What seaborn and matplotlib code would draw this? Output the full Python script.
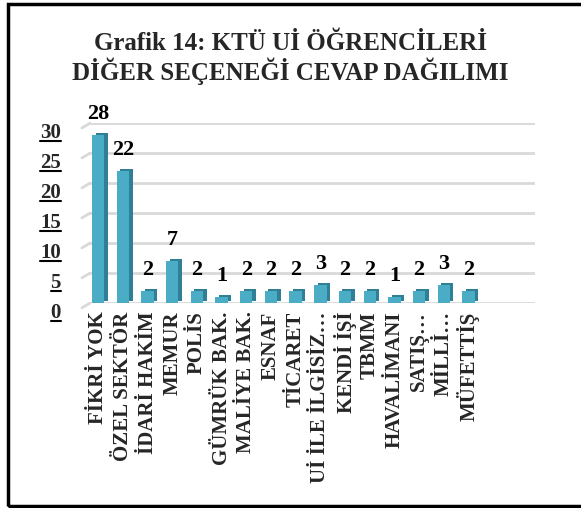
import matplotlib.pyplot as plt
import matplotlib.patheffects as pe
import matplotlib.transforms as mtransforms
from matplotlib.patches import Rectangle
from matplotlib.lines import Line2D
import pandas as pd
import seaborn as sns

# Data
categories = ['FİKRİ YOK', 'ÖZEL SEKTÖR', 'İDARİ HAKİM', 'MEMUR', 'POLİS',
              'GÜMRÜK BAK.', 'MALİYE BAK.', 'ESNAF', 'TİCARET',
              'Uİ İLE İLGİSİZ…', 'KENDİ İŞİ', 'TBMM', 'HAVALİMANI',
              'SATIŞ…', 'MİLLİ…', 'MÜFETTİŞ']
counts = [28, 22, 2, 7, 2, 1, 2, 2, 2, 3, 2, 2, 1, 2, 3, 2]
yticks = [0, 5, 10, 15, 20, 25, 30]

df = pd.DataFrame({'Kategori': categories, 'Sayi': counts})

sns.set_theme(style='white')
plt.rcParams['font.family'] = ['Liberation Serif', 'DejaVu Serif']
plt.rcParams['font.weight'] = 'bold'

fig = plt.figure(figsize=(5.81, 5.08), dpi=100)
ax = fig.add_axes([0.155, 0.4035, 0.766, 0.354])

sns.barplot(data=df, x='Kategori', y='Sayi', color='#4BACC6', width=0.5,
            saturation=1, linewidth=0, ax=ax, zorder=3)

# fake 3D depth on the bars
for bar in ax.patches:
    bar.set_path_effects([pe.SimplePatchShadow(offset=(2.5, 1.5), shadow_rgbFace='#2F7F96', alpha=1),
                          pe.Normal()])

# value labels
for i, v in enumerate(counts):
    ax.annotate(str(v), (i, v), xytext=(0, 8), textcoords='offset points',
                ha='center', va='bottom', fontsize=16, fontweight='bold', color='black')

ax.set_ylim(0, 30)
ax.set_xlim(-0.33, 17.7)
ax.set_yticks(yticks)
ax.set_yticklabels([str(t) for t in yticks], fontsize=15, fontweight='bold')
ax.yaxis.grid(True, color='#D9D9D9', linewidth=2)
ax.set_axisbelow(True)
for s in ax.spines.values():
    s.set_visible(False)
ax.tick_params(axis='y', length=0, pad=21)
ax.tick_params(axis='x', length=0, pad=6)

# small perspective stubs at the left end of each gridline
for t in yticks:
    ax.plot([-0.66, -0.33], [t - 0.8, t], color='#D9D9D9', linewidth=2, clip_on=False, zorder=1)

offset = mtransforms.ScaledTranslation(0, -7 / 100, fig.dpi_scale_trans)
for lab in ax.get_yticklabels():
    lab.set_transform(lab.get_transform() + offset)

ax.set_xticks(range(len(categories)))
ax.set_xticklabels(categories, rotation=90, fontsize=15, fontweight='bold', va='top')
ax.set_xlabel('')
ax.set_ylabel('')

fig.text(0.5, 0.885, 'Grafik 14: KTÜ Uİ ÖĞRENCİLERİ\nDİĞER SEÇENEĞİ CEVAP DAĞILIMI',
         ha='center', va='center', fontsize=18, fontweight='bold', linespacing=1.1)

# underline the y tick labels
fig.canvas.draw()
for lab in ax.get_yticklabels():
    bb = lab.get_window_extent()
    yl = bb.y0 + 1.5
    fig.add_artist(Line2D([bb.x0, bb.x1], [yl, yl], transform=None, color='black', linewidth=1.5))

# outer frame (cropped on the right in the reference)
fig.patches.append(Rectangle((8 / 581, 2 / 508), 1.1, 502 / 508, transform=fig.transFigure,
                             fill=False, edgecolor='black', linewidth=2.5))

fig.savefig('out.png', dpi=100)
